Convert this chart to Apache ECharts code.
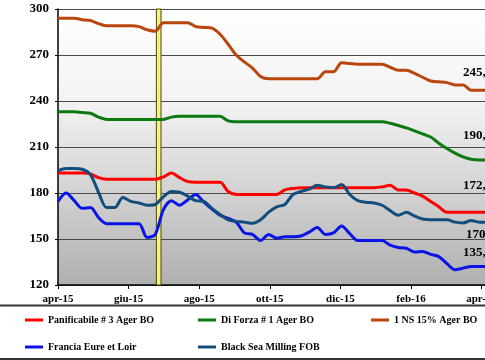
<!DOCTYPE html>
<html>
<head>
<meta charset="utf-8">
<script src="https://cdn.jsdelivr.net/npm/echarts@6/dist/echarts.min.js"></script>
<style>
html,body{margin:0;padding:0;overflow:hidden;background:#fff;}
#c{width:500px;height:360px;}
</style>
</head>
<body>
<div id="c"></div>
<script>
// x tick positions (days since 1 Apr 2015) and labels
const tickDays = [0, 61, 122, 183, 244, 305, 366];
const tickLabels = ['apr-15', 'giu-15', 'ago-15', 'ott-15', 'dic-15', 'feb-16', 'apr-16'];
// weekly observations (one value per week from 1 Apr 2015)
const panificabile = [193,193,193,193,192.5,190,189,189,189,189,189,189,189,190.5,193,190,187.5,187,187,187,187,181,179,179,179,179,179,179,182,183,183.5,183.5,183.5,183.5,183.5,183.5,183.5,183.5,183.5,183.5,184,185,182,182,180,178,174.5,171,167.5,167.5,167.5,167.5,167.5,167.5];
const diForza = [233,233,233,232.5,232,229.5,228,228,228,228,228,228,228,228,229.5,230,230,230,230,230,230,227,226.5,226.5,226.5,226.5,226.5,226.5,226.5,226.5,226.5,226.5,226.5,226.5,226.5,226.5,226.5,226.5,226.5,226.5,226.5,225.5,224,222.5,220.5,218.5,216.5,212.5,209,206,203.5,202,201.5,201.5];
const ns15 = [294,294,294,293,292.5,290.5,289,289,289,289,288.5,286.5,285.5,291,291,291,291,288.5,288,287.5,283.5,277,270,265.5,261.5,256,254.5,254.5,254.5,254.5,254.5,254.5,254.5,259,259,265,264.5,264,264,264,264,262,260,260,258,255.5,253,252.5,252,250.5,250.5,247,247,247];
const francia = [174.5,180,175,170,170.5,164,160,160,160,160,160,151,153,169,175,172,175.5,179,174,169.5,165.5,163.5,161,154,153,149,153,150.5,151.5,151.5,152,154.5,157.5,153,154,158.5,153.5,149,149,149,149,146,144.5,144,141.5,141.8,140,138.5,134,130,131,132,132,132];
const blackSea = [194.5,196,196,195.5,192,180.5,170.5,170.5,177,174.5,173.5,172,172.5,177.5,181,180.5,178,175,174.5,170,166,162.5,161.5,161,160.2,162.5,167.5,171,172.5,179,181,182.5,185,184,183.5,185.5,179,175,174,173.5,172,168.5,165.5,167.5,165,163,162.5,162.5,162.5,161,160.5,162,161,161];
const seriesNames = ['Panificabile # 3 Ager BO', 'Di Forza # 1 Ager BO', '1 NS 15% Ager BO', 'Francia Eure et Loir', 'Black Sea Milling FOB'];
const seriesColors = ['#ff0000', '#0b7a10', '#b8460e', '#0a14e6', '#134d7c'];
const endLabels = ['245,00', '190,00', '172,50', '170,00', '135,00'];
const endLabelY = [73, 136, 186, 235, 253];
const endLabelX = [463, 463, 463, 466, 463];
const bandDays = [85, 89];

const allValues = [panificabile, diForza, ns15, francia, blackSea];
const toPoints = arr => arr.map((v, i) => [i * 7, v]);

const chart = echarts.init(document.getElementById('c'), null, {renderer: 'canvas'});
const serif = '"Liberation Serif", "Times New Roman", serif';

const series = allValues.map((vals, i) => ({
  name: seriesNames[i],
  type: 'line',
  data: toPoints(vals),
  smooth: 0.3,
  showSymbol: false,
  symbol: 'none',
  lineStyle: {width: 3, color: seriesColors[i]},
  itemStyle: {color: seriesColors[i]},
  z: 3 + i
}));
series[0].markArea = {
  silent: true,
  itemStyle: {color: '#f6f08c', borderColor: '#4d4a00', borderWidth: 1},
  data: [[{xAxis: bandDays[0]}, {xAxis: bandDays[1]}]]
};

const legendPos = [[25, 315], [198, 315], [371, 315], [25, 342], [198, 342]];
const legends = seriesNames.map((n, i) => ({
  data: [n],
  left: legendPos[i][0],
  top: legendPos[i][1],
  icon: 'rect',
  itemWidth: 18,
  itemHeight: 3,
  padding: 0,
  textStyle: {fontFamily: serif, fontWeight: 'bold', fontSize: 10, color: '#000'}
}));

const graphics = [
  {type: 'line', shape: {x1: 0, y1: 305.5, x2: 500, y2: 305.5}, style: {stroke: '#333', lineWidth: 2}},
  {type: 'line', shape: {x1: 0, y1: 359, x2: 500, y2: 359}, style: {stroke: '#333', lineWidth: 2}}
];
endLabels.forEach((t, i) => {
  graphics.push({
    type: 'text', left: endLabelX[i], top: endLabelY[i] - 7, z: 20,
    style: {text: t, font: 'bold 13px ' + serif, fill: '#000'}
  });
});

chart.setOption({
  animation: false,
  backgroundColor: '#fff',
  grid: {
    left: 58, right: 3, top: 9, bottom: 75, show: true, borderWidth: 0,
    backgroundColor: new echarts.graphic.LinearGradient(0, 0, 0, 1, [
      {offset: 0, color: '#ffffff'},
      {offset: 0.35, color: '#f2f2f2'},
      {offset: 1, color: '#b0b0b0'}
    ])
  },
  legend: legends,
  xAxis: {
    type: 'value', min: 0, max: 378, interval: 61,
    axisLine: {lineStyle: {color: '#000', width: 1.5}},
    axisTick: {show: true, length: 4, lineStyle: {color: '#000'}},
    splitLine: {show: false},
    axisLabel: {
      margin: 9,
      fontFamily: serif, fontWeight: 'bold', fontSize: 11, color: '#000',
      formatter: v => { const k = tickDays.indexOf(v); return k >= 0 ? tickLabels[k] : ''; }
    }
  },
  yAxis: {
    type: 'value', min: 120, max: 300, interval: 30,
    axisLine: {show: true, lineStyle: {color: '#000', width: 1.5}},
    axisTick: {show: true, length: 3, lineStyle: {color: '#000'}},
    splitLine: {show: true, lineStyle: {color: '#4a4a4a', width: 1}},
    axisLabel: {margin: 9, fontFamily: serif, fontWeight: 'bold', fontSize: 13, color: '#000'}
  },
  graphic: graphics,
  series: series
});
</script>
</body>
</html>
